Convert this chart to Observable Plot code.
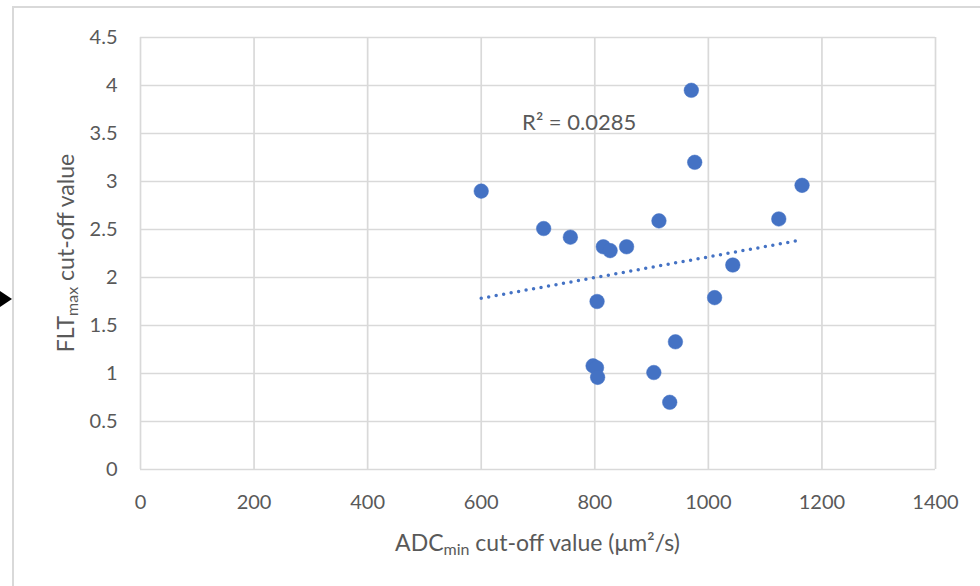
<!DOCTYPE html>
<html>
<head>
<meta charset="utf-8">
<script src="https://cdn.jsdelivr.net/npm/d3@7"></script>
<script src="https://cdn.jsdelivr.net/npm/@observablehq/plot@0.6"></script>
<style>
  html, body { margin: 0; padding: 0; background: #fff; }
  #wrap { position: relative; width: 980px; height: 586px; overflow: hidden; font-family: Lato, "Open Sans", sans-serif; }
  #frame { position: absolute; left: 12px; top: 6px; width: 980px; height: 600px; border-top: 2px solid #d9d9d9; border-left: 2px solid #d9d9d9; box-sizing: border-box; }
  #arrow { position: absolute; left: 0; top: 291px; }
  #chart { position: absolute; left: 0; top: 0; }
</style>
</head>
<body>
<div id="wrap">
  <div id="frame"></div>
  <svg id="arrow" width="14" height="16"><polygon points="0,0 12,8 0,16" fill="#000"/></svg>
  <div id="chart"></div>
</div>
<script>
// ADC_min cut-off value (µm²/s)
const adcMin = [600, 710, 757, 815, 827, 856, 913, 970, 976, 1124, 1165, 1043, 1011, 804, 942, 797, 803, 805, 904, 932];
// FLT_max cut-off value
const fltMax = [2.90, 2.51, 2.42, 2.32, 2.28, 2.32, 2.59, 3.95, 3.20, 2.61, 2.96, 2.13, 1.79, 1.75, 1.33, 1.08, 1.06, 0.96, 1.01, 0.70];
const xTicks = [0, 200, 400, 600, 800, 1000, 1200, 1400];
const yTicks = [0, 0.5, 1, 1.5, 2, 2.5, 3, 3.5, 4, 4.5];
const r2Label = "R² = 0.0285";
const r2Anchor = {x: 672, y: 3.61};

const data = adcMin.map((x, i) => ({x, y: fltMax[i]}));

const BLUE = "#4472C4";
const GRID = "#d9d9d9";
const TEXT = "#595959";

const chart = Plot.plot({
  width: 980,
  height: 586,
  marginLeft: 140,
  marginRight: 45,
  marginTop: 37,
  marginBottom: 117,
  style: {fontFamily: "Lato, 'Open Sans', sans-serif", fontSize: "20px", color: TEXT, background: "transparent"},
  x: {domain: [0, 1400], ticks: xTicks},
  y: {domain: [0, 4.5], ticks: yTicks},
  marks: [
    Plot.gridX(xTicks, {stroke: GRID, strokeOpacity: 1, strokeWidth: 1.7}),
    Plot.gridY(yTicks, {stroke: GRID, strokeOpacity: 1, strokeWidth: 1.7}),
    Plot.axisX(xTicks, {tickSize: 0, tickPadding: 25, label: null, fill: TEXT, fontSize: 20, tickFormat: d => String(d)}),
    Plot.axisY(yTicks, {tickSize: 0, tickPadding: 23, label: null, fill: TEXT, fontSize: 20, tickFormat: d => String(d)}),
    Plot.linearRegressionY(data, {x: "x", y: "y", ci: 0, stroke: BLUE, strokeWidth: 3.5, strokeDasharray: "0,7.6", strokeLinecap: "round"}),
    Plot.dot(data, {x: "x", y: "y", r: 7.3, fill: BLUE, stroke: BLUE, strokeWidth: 0.5}),
    Plot.text([r2Anchor], {x: "x", y: "y", text: () => r2Label, textAnchor: "start", fill: TEXT, fontSize: 22})
  ]
});

document.getElementById("chart").appendChild(chart);

// Axis titles with subscripts
const svg = d3.select(chart);
const xs = chart.scale("x"), ys = chart.scale("y");
const xMid = (xs.range[0] + xs.range[1]) / 2;
const yMid = (ys.range[0] + ys.range[1]) / 2;

const xt = svg.append("text")
  .attr("x", xMid).attr("y", 551)
  .attr("text-anchor", "middle")
  .attr("fill", TEXT)
  .style("font-size", "23px");
xt.append("tspan").text("ADC");
xt.append("tspan").text("min").attr("font-size", "16px").attr("dy", "4");
xt.append("tspan").text(" cut-off value (μm²/s)").attr("dy", "-4");

const yt = svg.append("text")
  .attr("transform", `translate(74,${yMid}) rotate(-90)`)
  .attr("text-anchor", "middle")
  .attr("fill", TEXT)
  .style("font-size", "23px");
yt.append("tspan").text("FLT");
yt.append("tspan").text("max").attr("font-size", "16px").attr("dy", "4");
yt.append("tspan").text(" cut-off value").attr("dy", "-4");
</script>
</body>
</html>
